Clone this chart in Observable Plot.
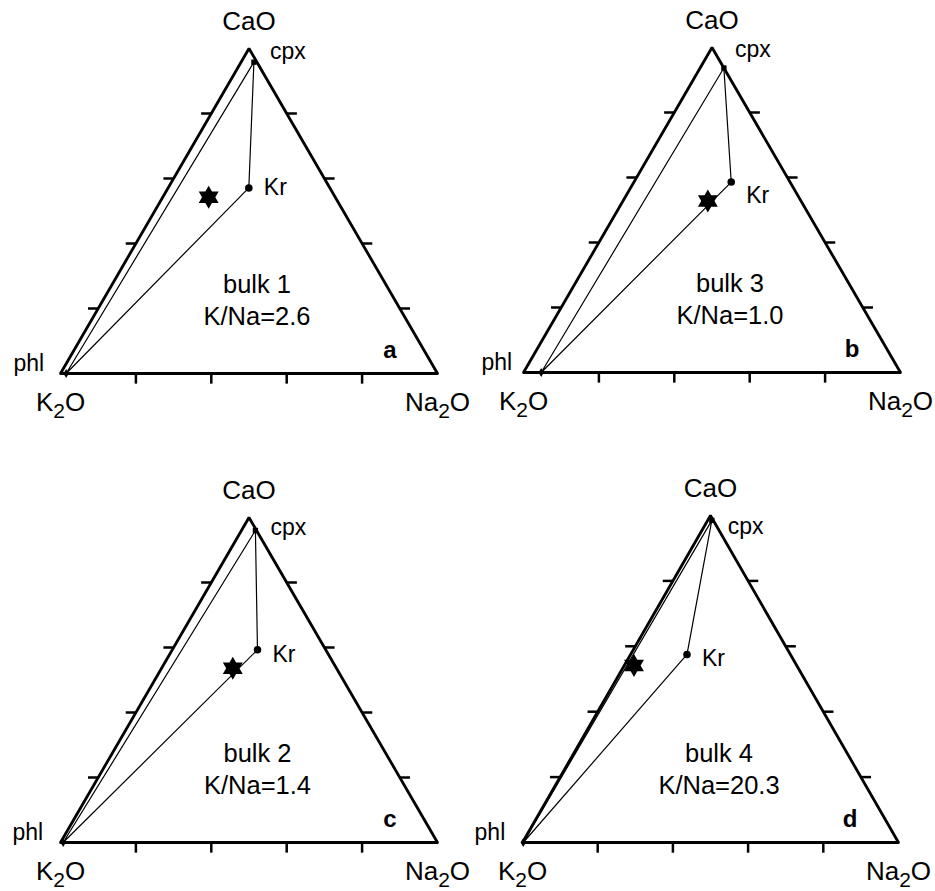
<!DOCTYPE html>
<html><head><meta charset="utf-8">
<script src="https://cdn.jsdelivr.net/npm/d3@7"></script>
<script src="https://cdn.jsdelivr.net/npm/@observablehq/plot@0.6"></script>
<style>
html,body{margin:0;padding:0;background:#fff;}
#root{position:relative;width:935px;height:891px;overflow:hidden;background:#fff;}
#root > svg{position:absolute;}
</style></head><body><div id="root"></div>
<script>
// ---- data ----
const panelLetters = ["a", "b", "c", "d"];
const bulkNames = ["bulk 1", "bulk 3", "bulk 2", "bulk 4"];
const kNaRatios = ["2.6", "1.0", "1.4", "20.3"];
const cornerNames = ["K2O", "Na2O", "CaO"];
const tickPercents = [20, 40, 60, 80];
// compositions in % (CaO, Na2O; K2O is the remainder)
const phlCaO = [0, 0, 0, 0];
const phlNa2O = [1.5, 4.7, 0.7, 0.2];
const cpxCaO = [95.8, 93.7, 96.0, 98.5];
const cpxNa2O = [3.4, 6.3, 3.7, 1.1];
const krCaO = [57.1, 58.6, 59.3, 57.5];
const krNa2O = [21.4, 25.8, 22.6, 15.0];
const bulkCaO = [54.2, 52.8, 53.6, 54.1];
const bulkNa2O = [12.2, 22.5, 18.9, 2.6];

// ---- layout (pixels) ----
const layout = [
  {left: 0,   top: 0,   width: 467, height: 440, mL: 60, mR: 30, mT: 48, mB: 67, bulkDx: 8,   krDy: 0,  cpxDx: 16, cpxDy: -11, phlDx: -22},
  {left: 467, top: 0,   width: 468, height: 440, mL: 56, mR: 35, mT: 47, mB: 68, bulkDx: 18,  krDy: 14, cpxDx: 11, cpxDy: -18, phlDx: -29},
  {left: 0,   top: 440, width: 467, height: 451, mL: 60, mR: 30, mT: 77, mB: 49, bulkDx: 8.5, krDy: 5,  cpxDx: 15, cpxDy: -3,  phlDx: -20},
  {left: 467, top: 440, width: 468, height: 451, mL: 55, mR: 37, mT: 75, mB: 49, bulkDx: 8.5, krDy: 4,  cpxDx: 16, cpxDy: 6,   phlDx: -18}
];

const H = Math.sqrt(3) / 2;
const tx = (ca, na) => na / 100 + ca / 200;
const ty = (ca) => ca / 100 * H;
const X = d => tx(d.ca, d.na);
const Y = d => ty(d.ca);
const tickLen = 0.027;
const FONT = "'Liberation Sans', Arial, Helvetica, sans-serif";

const hexagram = {
  draw(ctx, size) {
    const R = Math.sqrt(size / Math.PI);
    for (const a0 of [-90, 90]) {
      for (let k = 0; k < 3; k++) {
        const a = (a0 + 120 * k) * Math.PI / 180;
        const px = R * Math.cos(a), py = R * Math.sin(a);
        if (k === 0) ctx.moveTo(px, py); else ctx.lineTo(px, py);
      }
      ctx.closePath();
    }
  }
};

const root = document.getElementById("root");

panelLetters.forEach((letter, i) => {
  const L = layout[i];
  const corners = [
    {name: cornerNames[0], ca: 0, na: 0},
    {name: cornerNames[1], ca: 0, na: 100},
    {name: cornerNames[2], ca: 100, na: 0}
  ];
  const outline = [corners[0], corners[1], corners[2], corners[0], corners[1]];
  const phl = {name: "phl", ca: phlCaO[i], na: phlNa2O[i]};
  const cpx = {name: "cpx", ca: cpxCaO[i], na: cpxNa2O[i]};
  const kr = {name: "Kr", ca: krCaO[i], na: krNa2O[i]};
  const bulk = {name: bulkNames[i], ca: bulkCaO[i], na: bulkNa2O[i]};
  const tie = [phl, cpx, kr, phl];

  const svg = Plot.plot({
    width: L.width, height: L.height,
    marginLeft: L.mL, marginRight: L.mR, marginTop: L.mT, marginBottom: L.mB,
    x: {domain: [0, 1], axis: null},
    y: {domain: [0, H], axis: null},
    style: {fontFamily: FONT, background: "transparent", overflow: "visible", color: "black"},
    marks: [
      // tie lines
      Plot.line(tie, {x: X, y: Y, stroke: "black", strokeWidth: 1.2}),
      // triangle outline
      Plot.line(outline, {x: X, y: Y, stroke: "black", strokeWidth: 2.8, strokeLinejoin: "miter"}),
      // bottom ticks
      Plot.link(tickPercents, {x1: t => tx(0, t), x2: t => tx(0, t), y1: 0, y2: -tickLen, stroke: "black", strokeWidth: 2.5}),
      // left ticks
      Plot.link(tickPercents, {x1: t => tx(t, 0) - tickLen, x2: t => tx(t, 0), y1: t => ty(t), y2: t => ty(t), stroke: "black", strokeWidth: 2.5}),
      // right ticks
      Plot.link(tickPercents, {x1: t => tx(t, 100 - t), x2: t => tx(t, 100 - t) + tickLen, y1: t => ty(t), y2: t => ty(t), stroke: "black", strokeWidth: 2.5}),
      // phase points
      Plot.dot([phl], {x: X, y: Y, symbol: "diamond", r: 2.8, fill: "black", stroke: "none"}),
      Plot.dot([cpx], {x: X, y: Y, symbol: "square", r: 3, fill: "black", stroke: "none"}),
      Plot.dot([kr], {x: X, y: Y, r: 3.8, fill: "black", stroke: "none"}),
      Plot.dot([bulk], {x: X, y: Y, symbol: hexagram, r: 11.5, fill: "black", stroke: "none"}),
      // point labels
      Plot.text([kr], {x: X, y: Y, text: "name", textAnchor: "start", dx: 15, dy: L.krDy, fontSize: 23, fill: "black"}),
      Plot.text([cpx], {x: X, y: Y, text: "name", textAnchor: "start", dx: L.cpxDx, dy: L.cpxDy, fontSize: 23, fill: "black"}),
      Plot.text([phl], {x: X, y: Y, text: "name", textAnchor: "end", dx: L.phlDx, dy: -10, fontSize: 23, fill: "black"}),
      // corner labels
      Plot.text([corners[2]], {x: X, y: Y, text: "name", dy: -27, fontSize: 26, fill: "black"}),
      Plot.text(corners.slice(0, 2), {x: X, y: Y, text: "name", dy: 29, fontSize: 26, fill: "black"}),
      // bulk annotation
      Plot.text([bulkNames[i]], {text: d => d, frameAnchor: "bottom", dx: L.bulkDx, dy: -81, fontSize: 25.5, fill: "black"}),
      Plot.text([kNaRatios[i]], {text: d => "K/Na=" + d, frameAnchor: "bottom", dx: L.bulkDx, dy: -49, fontSize: 25.5, fill: "black"}),
      // panel letter
      Plot.text([letter], {text: d => d, frameAnchor: "bottom-right", dx: -41, dy: -16, fontSize: 24, fontWeight: "bold", fill: "black"})
    ]
  });

  // subscripts for oxide formulas
  d3.select(svg).selectAll("text").each(function () {
    const t = this.textContent;
    const m = /^([A-Za-z]+)2O$/.exec(t);
    if (m) {
      const sel = d3.select(this);
      sel.text(null);
      sel.append("tspan").text(m[1]);
      sel.append("tspan").attr("dy", 7).attr("font-size", "21px").text("2");
      sel.append("tspan").attr("dy", -7).text("O");
    }
  });

  svg.style.left = L.left + "px";
  svg.style.top = L.top + "px";
  root.appendChild(svg);
});
</script>
</body></html>
